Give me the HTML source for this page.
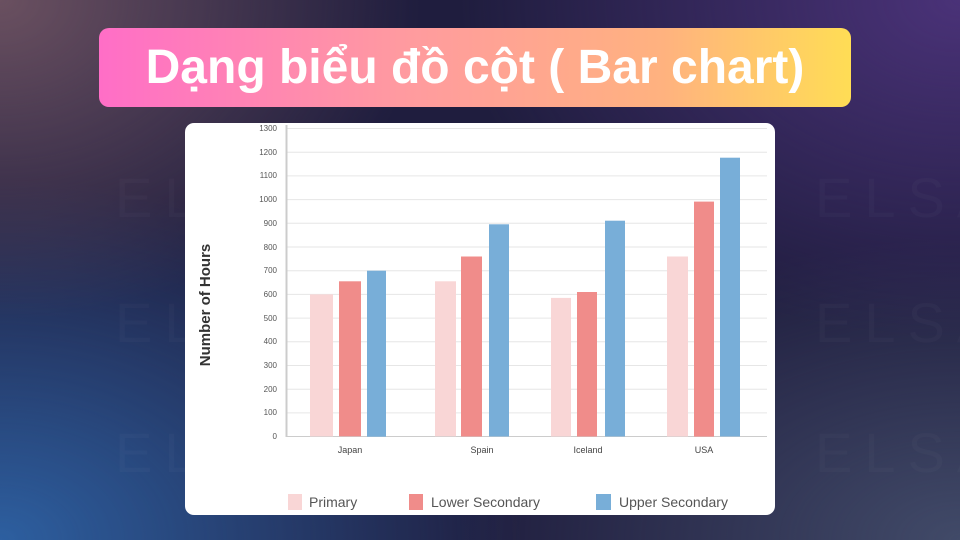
<!DOCTYPE html>
<html><head><meta charset="utf-8"><style>
*{margin:0;padding:0;box-sizing:border-box}
body{width:960px;height:540px;overflow:hidden;position:relative;font-family:"Liberation Sans",sans-serif;
background:
radial-gradient(ellipse 420px 320px at 0% 0%, #6a5060 0%, rgba(106,80,96,0) 100%),
radial-gradient(ellipse 500px 340px at 100% 0%, #4a3278 0%, rgba(74,50,120,0) 100%),
radial-gradient(ellipse 520px 360px at 0% 100%, #2d5fa0 0%, rgba(45,95,160,0) 100%),
radial-gradient(ellipse 500px 300px at 100% 100%, #414a68 0%, rgba(65,74,104,0) 100%),
#1f1d3e;}
.wm{position:absolute;color:rgba(255,255,255,0.025);font-size:56px;letter-spacing:12px}
.pill{position:absolute;left:99px;top:28px;width:752px;height:79px;border-radius:10px;
background:linear-gradient(90deg,#ff6ec7 0%,#ff9aa0 40%,#ffb27f 75%,#ffdd55 100%);
color:#fff;font-weight:bold;font-size:48px;text-align:center;line-height:79px;font-family:"Liberation Sans","Noto Sans CJK SC",sans-serif}
.card{position:absolute;left:185px;top:123px;width:590px;height:392px;background:#fff;border-radius:9px}
</style></head><body>
<div class="wm" style="left:115px;top:165px">ELSA</div>
<div class="wm" style="left:115px;top:290px">EL</div>
<div class="wm" style="left:115px;top:420px">EL</div>
<div class="wm" style="left:815px;top:165px">ELSA</div>
<div class="wm" style="left:815px;top:290px">ELSA</div>
<div class="wm" style="left:815px;top:420px">ELSA</div>
<div class="pill">Dạng biểu đồ cột ( Bar chart)</div>
<div class="card"></div>
<svg style="position:absolute;left:0;top:0" width="960" height="540" font-family="Liberation Sans, sans-serif">
<g stroke="#e6e6e6" stroke-width="1">
<line x1="286" x2="767" y1="128.5" y2="128.5"/><line x1="286" x2="767" y1="152.2" y2="152.2"/>
<line x1="286" x2="767" y1="175.9" y2="175.9"/><line x1="286" x2="767" y1="199.6" y2="199.6"/>
<line x1="286" x2="767" y1="223.3" y2="223.3"/><line x1="286" x2="767" y1="247" y2="247"/>
<line x1="286" x2="767" y1="270.7" y2="270.7"/><line x1="286" x2="767" y1="294.4" y2="294.4"/>
<line x1="286" x2="767" y1="318.1" y2="318.1"/><line x1="286" x2="767" y1="341.8" y2="341.8"/>
<line x1="286" x2="767" y1="365.5" y2="365.5"/><line x1="286" x2="767" y1="389.2" y2="389.2"/>
<line x1="286" x2="767" y1="412.9" y2="412.9"/>
</g>
<line x1="286" x2="767" y1="436.5" y2="436.5" stroke="#ccc"/>
<line x1="286.5" x2="286.5" y1="125" y2="437" stroke="#ccc" stroke-width="2"/>
<g font-size="8" fill="#555" text-anchor="end">
<text x="277" y="131">1300</text><text x="277" y="155">1200</text><text x="277" y="178">1100</text>
<text x="277" y="202">1000</text><text x="277" y="226">900</text><text x="277" y="250">800</text>
<text x="277" y="273">700</text><text x="277" y="297">600</text><text x="277" y="321">500</text>
<text x="277" y="344">400</text><text x="277" y="368">300</text><text x="277" y="392">200</text>
<text x="277" y="415">100</text><text x="277" y="439">0</text>
</g>
<g fill="#f9d6d6">
<rect x="310" y="294.4" width="23" height="142"/><rect x="435" y="281.3" width="21" height="155"/>
<rect x="551" y="297.9" width="20" height="138.6"/><rect x="667" y="256.5" width="21" height="180"/>
</g>
<g fill="#f08c8a">
<rect x="339" y="281.3" width="22" height="155"/><rect x="461" y="256.5" width="21" height="180"/>
<rect x="577" y="292" width="20" height="144.5"/><rect x="694" y="201.6" width="20" height="235"/>
</g>
<g fill="#78aed8">
<rect x="367" y="270.7" width="19" height="166"/><rect x="489" y="224.3" width="20" height="212.2"/>
<rect x="605" y="220.7" width="20" height="215.8"/><rect x="720" y="157.7" width="20" height="278.8"/>
</g>
<g font-size="9" fill="#444" text-anchor="middle">
<text x="350" y="453">Japan</text><text x="482" y="453">Spain</text>
<text x="588" y="453">Iceland</text><text x="704" y="453">USA</text>
</g>
<text transform="translate(210,305) rotate(-90)" text-anchor="middle" font-size="15" font-weight="bold" fill="#333">Number of Hours</text>
<rect x="288" y="494" width="14" height="16" fill="#f9d6d6"/>
<rect x="409" y="494" width="14" height="16" fill="#f08c8a"/>
<rect x="596" y="494" width="15" height="16" fill="#78aed8"/>
<g font-size="14" fill="#555">
<text x="309" y="507">Primary</text><text x="431" y="507">Lower Secondary</text><text x="619" y="507">Upper Secondary</text>
</g>
</svg>
</body></html>
